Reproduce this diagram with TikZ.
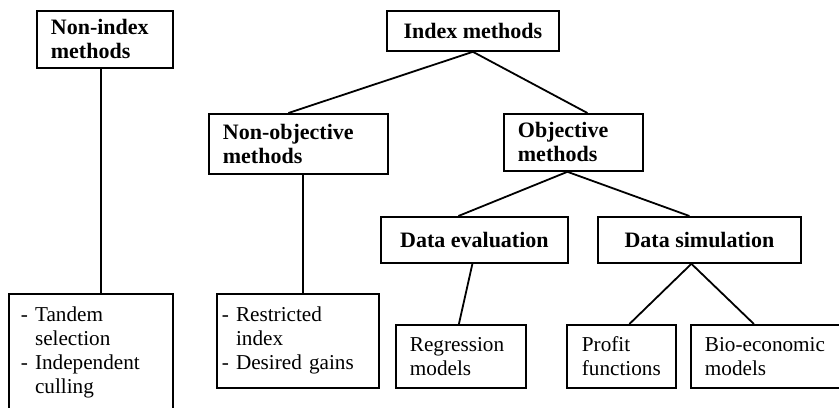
\documentclass[tikz,border=0pt]{standalone}
\usepackage{fontspec}
\setmainfont{Liberation Serif}
\usetikzlibrary{positioning}

\begin{document}
\begin{tikzpicture}[x=0.5pt,y=-0.5pt,line width=0.9pt,
  box/.style={draw,anchor=north west,inner ysep=0pt,align=left,font=\fontsize{10.6}{12}\selectfont},
  head/.style={box,font=\fontsize{11}{12}\selectfont\bfseries},
  cbox/.style={head,align=center}]
\useasboundingbox (0,0) rectangle (839,407);
\node[head,minimum width=68pt,minimum height=28.5pt,inner xsep=7pt,text width=54pt] (nonidx) at (36,10) {Non-index\\methods};
\node[cbox,minimum width=86pt,minimum height=20pt] (index) at (386,10) {Index methods};
\node[head,minimum width=89.5pt,minimum height=30pt,inner xsep=7pt,text width=75.5pt] (nonobj) at (208,113) {Non-objective\\methods};
\node[head,minimum width=69.5pt,minimum height=28.5pt,inner xsep=7pt,text width=55.5pt] (obj) at (503,113) {Objective\\methods};
\node[cbox,minimum width=93.5pt,minimum height=23pt] (deval) at (380,216) {Data evaluation};
\node[cbox,minimum width=101.5pt,minimum height=23pt] (dsim) at (597,216) {Data simulation};
\node[box,minimum width=82pt,minimum height=58.5pt,inner xsep=6pt,text width=70pt] (tandem) at (8,293) {- Tandem\\\phantom{- }selection\\- Independent\\\phantom{- }culling};
\node[box,minimum width=81pt,minimum height=47pt,inner xsep=2.5pt,text width=76pt] (restr) at (216,293) {- Restricted\\\phantom{- }index\\- Desired gains};
\node[box,minimum width=65pt,minimum height=31.5pt,inner xsep=7pt,text width=51pt] (regr) at (395,324) {Regression\\models};
\node[box,minimum width=54.5pt,minimum height=31.5pt,inner xsep=7.5pt,text width=39.5pt] (profit) at (566,324) {Profit\\functions};
\node[box,minimum width=85pt,minimum height=31.5pt,inner xsep=7pt,text width=71pt] (bio) at (690,324) {Bio-economic\\models};
% tree links
\draw ([xshift=-2pt]nonidx.south) -- ([xshift=-2pt]nonidx.south |- tandem.north);
\draw (index.south) -- ([xshift=-5pt]nonobj.north); \draw (index.south) -- ([xshift=7pt]obj.north);
\draw ([xshift=2.25pt]nonobj.south) -- ([xshift=2.25pt]nonobj.south |- restr.north);
\draw ([xshift=-3pt]obj.south) -- ([xshift=-8pt]deval.north); \draw ([xshift=-3pt]obj.south) -- ([xshift=-5pt]dsim.north);
\draw ([xshift=-1pt]deval.south) -- ([xshift=-1pt]regr.north);
\draw ([xshift=-4pt]dsim.south) -- ([xshift=4pt]profit.north); \draw ([xshift=-4pt]dsim.south) -- ([xshift=-11pt]bio.north);
\end{tikzpicture}
\end{document}
